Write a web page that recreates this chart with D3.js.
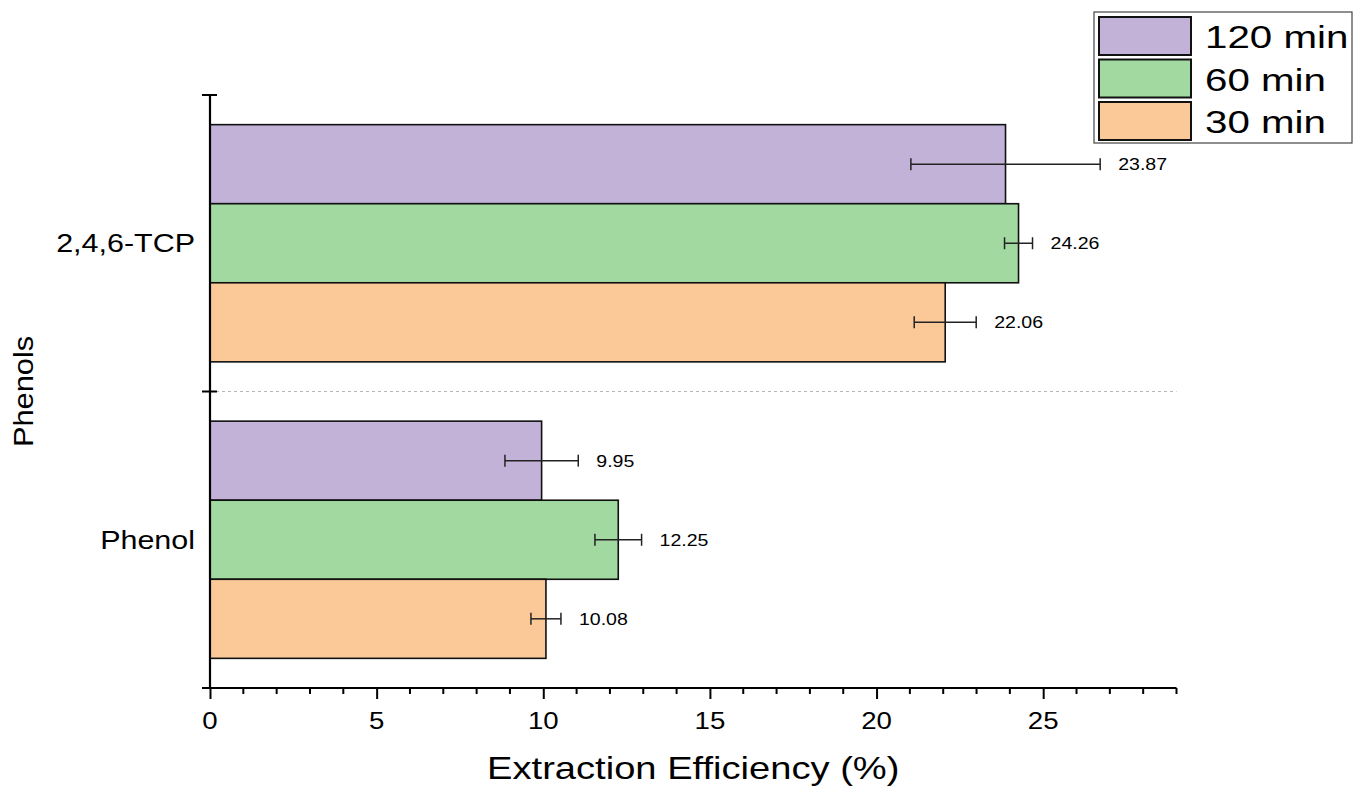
<!DOCTYPE html>
<html>
<head>
<meta charset="utf-8">
<script src="https://cdn.jsdelivr.net/npm/d3@7"></script>
<style>
  html, body { margin: 0; padding: 0; background: #fff; }
  svg { display: block; font-family: "Liberation Sans", Arial, Helvetica, sans-serif; }
</style>
</head>
<body>
<svg id="chart" width="1355" height="787"></svg>
<script>
// ---- data ----
const categories = ["2,4,6-TCP", "Phenol"];
const seriesNames = ["120 min", "60 min", "30 min"];
const values120 = [23.87, 9.95];
const values60 = [24.26, 12.25];
const values30 = [22.06, 10.08];
const err120 = [2.84, 1.10];
const err60 = [0.42, 0.70];
const err30 = [0.93, 0.45];
const xTicks = [0, 5, 10, 15, 20, 25];
const xDomain = [0, 29];
const seriesColors = ["#c2b2d8", "#a1d9a0", "#fbc898"];
const xTitle = "Extraction Efficiency (%)";
const yTitle = "Phenols";

const seriesValues = [values120, values60, values30];
const seriesErrors = [err120, err60, err30];

const svg = d3.select("#chart");
const mLeft = 210, mRight = 1176.5, mTop = 95, mBottom = 688;

const x = d3.scaleLinear().domain(xDomain).range([mLeft, mRight]);
const y0 = d3.scaleBand().domain(categories).range([mTop, mBottom]).padding(0);
const y1 = d3.scaleBand().domain(seriesNames)
  .range([y0.bandwidth() * 0.1, y0.bandwidth() * 0.9]).padding(0);

function stretchedText(g, tx, ty, str, size, sx, anchor) {
  return g.append("text")
    .attr("transform", `translate(${tx},${ty}) scale(${sx},1)`)
    .attr("font-size", size)
    .attr("text-anchor", anchor || "start")
    .attr("fill", "#000")
    .text(str);
}

// dashed separator between categories
svg.append("line")
  .attr("x1", mLeft).attr("x2", mRight)
  .attr("y1", y0(categories[1])).attr("y2", y0(categories[1]))
  .attr("stroke", "#b5b5b5").attr("stroke-width", 1)
  .attr("stroke-dasharray", "3,3");

// bars
const rows = [];
categories.forEach((c, ci) => {
  seriesNames.forEach((s, si) => {
    rows.push({cat: c, ser: s, si, v: seriesValues[si][ci], e: seriesErrors[si][ci]});
  });
});

const bars = svg.append("g");
bars.selectAll("rect").data(rows).enter().append("rect")
  .attr("x", x(0))
  .attr("y", d => y0(d.cat) + y1(d.ser))
  .attr("width", d => x(d.v) - x(0))
  .attr("height", y1.bandwidth())
  .attr("fill", d => seriesColors[d.si])
  .attr("stroke", "#111").attr("stroke-width", 1.6);

// error bars
const eg = svg.append("g").attr("stroke", "#222").attr("stroke-width", 1.5);
rows.forEach(d => {
  const cy = y0(d.cat) + y1(d.ser) + y1.bandwidth() / 2;
  eg.append("line").attr("x1", x(d.v - d.e)).attr("x2", x(d.v + d.e)).attr("y1", cy).attr("y2", cy);
  eg.append("line").attr("x1", x(d.v - d.e)).attr("x2", x(d.v - d.e)).attr("y1", cy - 6).attr("y2", cy + 6);
  eg.append("line").attr("x1", x(d.v + d.e)).attr("x2", x(d.v + d.e)).attr("y1", cy - 6).attr("y2", cy + 6);
});

// value labels
const lg = svg.append("g");
rows.forEach(d => {
  const cy = y0(d.cat) + y1(d.ser) + y1.bandwidth() / 2;
  stretchedText(lg, x(d.v + d.e) + 18, cy + 6, d.v.toFixed(2), 17, 1.15, "start");
});

// x axis
const xAxisG = svg.append("g").attr("transform", `translate(0,${mBottom})`);
const xAxis = d3.axisBottom(x).tickValues(xTicks).tickSize(11).tickFormat("");
xAxisG.call(xAxis);
xAxisG.select(".domain").attr("stroke", "#000").attr("stroke-width", 2.2).attr("d", `M${mLeft - 5},0H${mRight}`);
xAxisG.selectAll(".tick line").attr("stroke", "#000").attr("stroke-width", 2);
const minor = d3.range(xDomain[0], xDomain[1] + 1).filter(v => v % 5 !== 0);
xAxisG.selectAll(".minor").data(minor).enter().append("line")
  .attr("x1", d => x(d)).attr("x2", d => x(d)).attr("y1", 0).attr("y2", 6)
  .attr("stroke", "#000").attr("stroke-width", 2);
xTicks.forEach(t => {
  stretchedText(svg, x(t), mBottom + 41, String(t), 24, 1.15, "middle");
});

// y axis
const yAxisG = svg.append("g").attr("transform", `translate(${mLeft},0)`);
yAxisG.append("line").attr("x1", 0).attr("x2", 0).attr("y1", mTop).attr("y2", mBottom)
  .attr("stroke", "#000").attr("stroke-width", 2.2);
const bounds = [mTop, y0(categories[1]), mBottom];
yAxisG.selectAll(".ytick").data(bounds).enter().append("line")
  .attr("x1", -8).attr("x2", 7).attr("y1", d => d).attr("y2", d => d)
  .attr("stroke", "#000").attr("stroke-width", 2);
categories.forEach(c => {
  stretchedText(svg, mLeft - 15, y0(c) + y0.bandwidth() / 2 + 9, c, 26.5, 1.15, "end");
});

// axis titles
stretchedText(svg, (mLeft + mRight) / 2, 779, xTitle, 30.5, 1.25, "middle");
svg.append("text")
  .attr("transform", `translate(33,${(mTop + mBottom) / 2}) rotate(-90) scale(1.1,1)`)
  .attr("font-size", 28).attr("text-anchor", "middle").attr("fill", "#000")
  .text(yTitle);

// legend
const leg = svg.append("g");
leg.append("rect").attr("x", 1094).attr("y", 12).attr("width", 258).attr("height", 131)
  .attr("fill", "#fff").attr("stroke", "#444").attr("stroke-width", 1.2);
seriesNames.forEach((s, i) => {
  const yy = 17 + i * 42.5;
  leg.append("rect").attr("x", 1099).attr("y", yy).attr("width", 92).attr("height", 38)
    .attr("fill", seriesColors[i]).attr("stroke", "#111").attr("stroke-width", 2);
  stretchedText(leg, 1205, yy + 31, s, 31, 1.3, "start");
});
</script>
</body>
</html>
